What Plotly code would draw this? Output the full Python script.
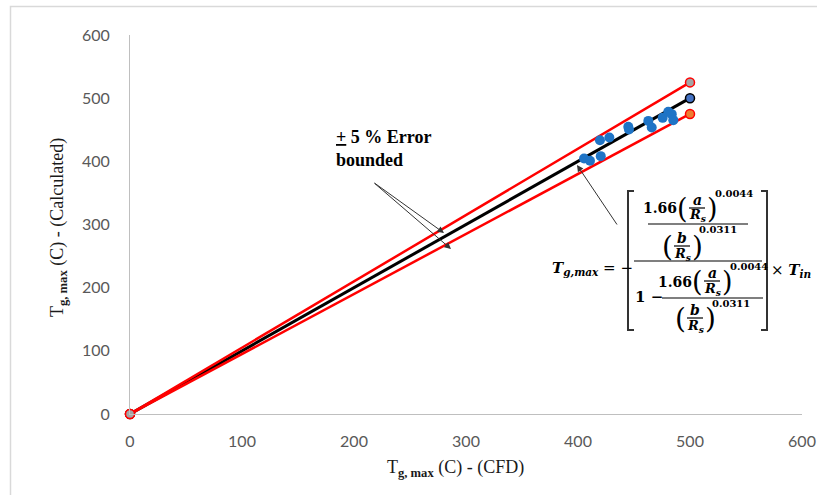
import plotly.graph_objects as go

# ---- data ----
cfd_x = [405.4, 410.7, 420.3, 419.6, 428.0, 444.9, 445.5, 462.8, 465.8, 475.6, 480.6, 483.7, 485.1]
calc_y = [404.6, 400.8, 408.2, 433.5, 437.8, 454.6, 450.5, 464.0, 453.6, 468.8, 478.3, 474.7, 465.2]
line_x = [0, 500]
parity_y = [0, 500]
upper_y = [0, 525]
lower_y = [0, 475]
tick_vals = [0, 100, 200, 300, 400, 500, 600]

W, H = 817, 495
L, R, T, B = 130, 15, 35, 81
PW, PH = W - L - R, H - T - B


def px(x):
    return (x - L) / PW


def py(y):
    return (T + PH - y) / PH


fig = go.Figure()
fig.add_trace(go.Scatter(x=line_x, y=parity_y, mode="lines+markers",
                         line=dict(color="#000000", width=3),
                         marker=dict(size=9, color="#4472C4", line=dict(color="#000000", width=1.5)),
                         cliponaxis=False, showlegend=False))
fig.add_trace(go.Scatter(x=line_x, y=lower_y, mode="lines+markers",
                         line=dict(color="#FF0000", width=2.5),
                         marker=dict(size=9, color="#ED7D31", line=dict(color="#FF0000", width=1.5)),
                         cliponaxis=False, showlegend=False))
fig.add_trace(go.Scatter(x=line_x, y=upper_y, mode="lines+markers",
                         line=dict(color="#FF0000", width=2.5),
                         marker=dict(size=9, color="#A5A5A5", line=dict(color="#FF0000", width=1.5)),
                         cliponaxis=False, showlegend=False))
fig.add_trace(go.Scatter(x=cfd_x, y=calc_y, mode="markers",
                         marker=dict(size=10, color="#1F74C6"),
                         cliponaxis=False, showlegend=False))

tickfont = dict(family="Lato", size=16, color="#595959")
fig.update_xaxes(range=[0, 600], tickvals=tick_vals, showgrid=False, zeroline=False,
                 showline=True, linecolor="#BFBFBF", linewidth=1, ticks="", automargin=False,
                 tickfont=tickfont, ticklabelstandoff=13)
fig.update_yaxes(range=[0, 600], tickvals=tick_vals, showgrid=False, zeroline=False,
                 showline=True, linecolor="#BFBFBF", linewidth=1, ticks="", automargin=False,
                 tickfont=tickfont, ticklabelstandoff=16)

anns = []
shapes = []


def ann(x, y, text, size, xa="center", ya="middle", family="DejaVu Serif", color="#000000"):
    anns.append(dict(x=px(x), y=py(y), xref="paper", yref="paper", text=text, showarrow=False,
                     xanchor=xa, yanchor=ya, borderpad=0,
                     font=dict(family=family, size=size, color=color)))


def seg(x0, y0, x1, y1, w=1, color="#000000"):
    shapes.append(dict(type="line", xref="paper", yref="paper", x0=px(x0), y0=py(y0),
                       x1=px(x1), y1=py(y1), line=dict(color=color, width=w)))


def path(points, w=2, color="#333333"):
    d = "M " + " L ".join(f"{px(a):.5f},{py(b):.5f}" for a, b in points)
    shapes.append(dict(type="path", xref="paper", yref="paper", path=d, line=dict(color=color, width=w)))


def paren_frac(cx, cy, top, dy=8, half=15, psize=28):
    ann(cx - half, cy, "(", psize, family="DejaVu Serif")
    ann(cx + half, cy, ")", psize, family="DejaVu Serif")
    ann(cx, cy - dy, f"<b><i>{top}</i></b>", 14)
    ann(cx, cy + dy, "<b><i>R<sub>s</sub></i></b>", 13)
    seg(cx - 8, cy, cx + 8, cy, 1.2)


# axis titles
ann(455, 468, "T<sub><b>g, max</b></sub> (C) - (CFD)", 18, family="Liberation Serif", color="#1a1a1a")
anns.append(dict(x=px(58), y=py(228), xref="paper", yref="paper", showarrow=False, textangle=-90,
                 text="T<sub><b>g, max</b></sub> (C) - (Calculated)", xanchor="center", yanchor="middle",
                 font=dict(family="Liberation Serif", size=18, color="#1a1a1a")))

# error-bound note and arrows
anns.append(dict(x=px(334), y=py(125), xref="paper", yref="paper", showarrow=False, align="left",
                 text="<b><u>+</u> 5 % Error<br>bounded</b>", xanchor="left", yanchor="top",
                 font=dict(family="Liberation Serif", size=18, color="#000000")))
for hx, hy in [(444, 233), (451, 249)]:
    anns.append(dict(x=px(hx), y=py(hy), xref="paper", yref="paper", text="", showarrow=True,
                     ax=373 - hx, ay=182 - hy, arrowhead=2, arrowsize=1.3, arrowwidth=1,
                     arrowcolor="#333333"))
anns.append(dict(x=px(577), y=py(165), xref="paper", yref="paper", text="", showarrow=True,
                 ax=618 - 577, ay=226 - 165, arrowhead=2, arrowsize=1.3, arrowwidth=1,
                 arrowcolor="#333333"))

# equation
ann(551, 268, "<b><i>T<sub>g,max</sub></i></b> = −", 15, xa="left")
path([(634, 191), (628, 191), (628, 330), (634, 330)])
path([(761, 191), (767, 191), (767, 330), (761, 330)])
seg(634, 261, 762, 261, 1.2)
# upper block
ann(678, 208, "<b>1.66</b>", 14, xa="right")
paren_frac(697, 208, "a", dy=8, half=15, psize=27)
ann(714, 193, "<b>0.0044</b>", 10, xa="left")
seg(648, 224, 748, 224, 1.2)
paren_frac(682, 246, "b", dy=8, half=15, psize=28)
ann(698, 229, "<b>0.0311</b>", 10, xa="left")
# lower block
ann(634, 297, "<b>1 −</b>", 15, xa="left")
seg(662, 298, 763, 298, 1.2)
ann(693, 282, "<b>1.66</b>", 14, xa="right")
paren_frac(712, 281, "a", dy=8, half=15, psize=27)
ann(729, 266, "<b>0.0044</b>", 10, xa="left")
paren_frac(695, 318, "b", dy=8, half=15, psize=28)
ann(711, 303, "<b>0.0311</b>", 10, xa="left")
ann(770, 270, "× <b><i>T<sub>in</sub></i></b>", 15, xa="left")

# chart-area border (top and left edges visible)
shapes.append(dict(type="rect", xref="paper", yref="paper", x0=px(10.5), x1=px(830), y0=py(6.5), y1=py(510),
                   line=dict(color="#D9D9D9", width=1.5), fillcolor="rgba(0,0,0,0)", layer="below"))

fig.update_layout(width=W, height=H, margin=dict(l=L, r=R, t=T, b=B),
                  plot_bgcolor="white", paper_bgcolor="white",
                  annotations=anns, shapes=shapes)

fig.write_html("out.html", config={"displayModeBar": False},
               post_script="document.body.style.margin='0';document.body.style.padding='0';")
